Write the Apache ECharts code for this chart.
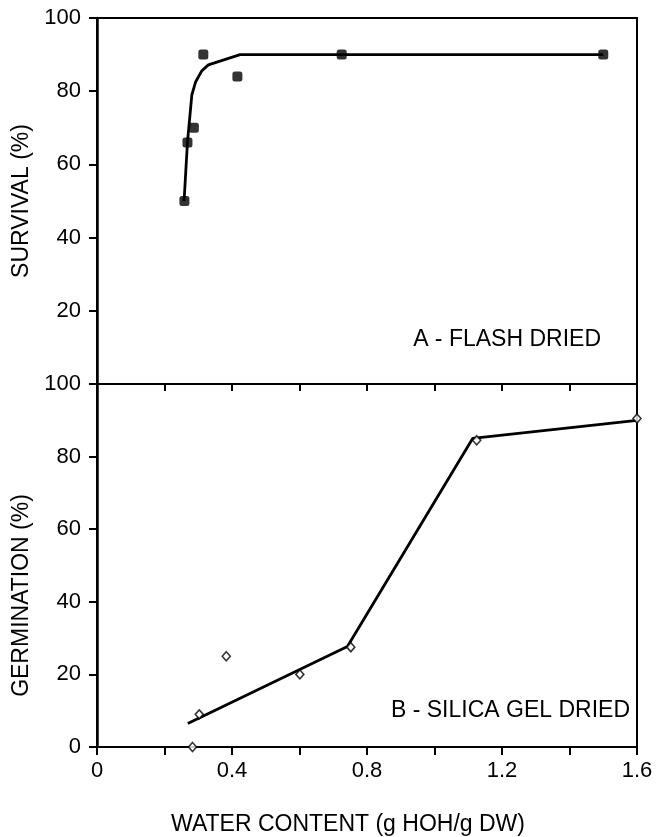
<!DOCTYPE html>
<html>
<head>
<meta charset="utf-8">
<script src="https://cdn.jsdelivr.net/npm/echarts@6/dist/echarts.min.js"></script>
<style>
  html, body { margin: 0; padding: 0; background: #fff; }
  #chart { width: 657px; height: 837px; }
</style>
</head>
<body>
<div id="chart"></div>
<script>
// A - flash dried: survival (%)
const flashX = [0.259, 0.268, 0.287, 0.315, 0.416, 0.725, 1.5]
const flashY = [50, 66, 70, 90, 84, 90, 90]
// fitted curve, panel A
const flashFitX = [0.258, 0.268, 0.281, 0.292, 0.31, 0.33, 0.424, 1.5]
const flashFitY = [50, 66, 79, 82.5, 85.5, 87.2, 90, 90]

// B - silica gel dried: germination (%)
const silicaX = [0.283, 0.303, 0.383, 0.601, 0.752, 1.125, 1.6]
const silicaY = [0, 9, 25, 20, 27.5, 84.5, 90.5]
// fitted line, panel B
const silicaFitX = [0.269, 0.742, 1.113, 1.6]
const silicaFitY = [6.5, 27.7, 85, 90]

const zip = (xs, ys) => xs.map((x, i) => [x, ys[i]])

const FONT = 'Liberation Sans, Arial, sans-serif'
const black = '#000'

const chart = echarts.init(document.getElementById('chart'))

const option = {
  animation: false,
  backgroundColor: '#fff',
  textStyle: { fontFamily: FONT, color: black },
  grid: [
    { left: 97, top: 18, width: 540, height: 366, show: true, borderColor: black, borderWidth: 2 },
    { left: 97, top: 384, width: 540, height: 366, show: true, borderColor: black, borderWidth: 2 }
  ],
  xAxis: [
    {
      gridIndex: 0, type: 'value', min: 0, max: 1.6, interval: 0.2,
      axisLine: { show: false }, axisTick: { show: false },
      axisLabel: { show: false }, splitLine: { show: false }
    },
    {
      gridIndex: 1, type: 'value', min: 0, max: 1.6, interval: 0.2, position: 'bottom',
      axisLine: { lineStyle: { color: black, width: 2 } },
      axisTick: { length: 8, lineStyle: { color: black, width: 2 } },
      axisLabel: {
        fontSize: 22, color: black, margin: 13, fontFamily: FONT,
        formatter: function(v) {
          const k = Math.round(v * 10)
          return k % 4 === 0 ? String(k / 10) : ''
        }
      },
      splitLine: { show: false },
      name: 'WATER CONTENT (g HOH/g DW)',
      nameLocation: 'middle',
      nameGap: 66,
      nameTextStyle: { fontSize: 23, color: black, fontFamily: FONT, padding: [0, 38, 0, 0] }
    },
    {
      // ticks along the top edge of panel B
      gridIndex: 1, type: 'value', min: 0, max: 1.6, interval: 0.2, position: 'top',
      axisLine: { show: false },
      axisTick: { inside: true, length: 7, lineStyle: { color: black, width: 2 } },
      axisLabel: { show: false }, splitLine: { show: false }
    }
  ],
  yAxis: [
    {
      gridIndex: 0, type: 'value', min: 0, max: 100, interval: 20,
      axisLine: { show: true, lineStyle: { color: black, width: 2.5 } },
      axisTick: { show: true, length: 8, lineStyle: { color: black, width: 2 } },
      axisLabel: {
        fontSize: 22, color: black, margin: 16, fontFamily: FONT,
        formatter: v => (v === 0 ? '' : String(v))
      },
      splitLine: { show: false },
      name: 'SURVIVAL (%)',
      nameLocation: 'middle',
      nameGap: 60,
      nameTextStyle: { fontSize: 23, color: black, fontFamily: FONT }
    },
    {
      gridIndex: 1, type: 'value', min: 0, max: 100, interval: 20,
      axisLine: { show: true, lineStyle: { color: black, width: 2.5 } },
      axisTick: { show: true, length: 8, lineStyle: { color: black, width: 2 } },
      axisLabel: { fontSize: 22, color: black, margin: 16, fontFamily: FONT },
      splitLine: { show: false },
      name: 'GERMINATION (%)',
      nameLocation: 'middle',
      nameGap: 60,
      nameTextStyle: { fontSize: 23, color: black, fontFamily: FONT, padding: [0, 60, 0, 0] }
    }
  ],
  graphic: [
    {
      type: 'text', right: 56, top: 328,
      style: { text: 'A - FLASH DRIED', font: '23px ' + FONT, fill: black }
    },
    {
      type: 'text', right: 27, top: 699,
      style: { text: 'B - SILICA GEL DRIED', font: '23px ' + FONT, fill: black }
    }
  ],
  series: [
    {
      name: 'flash fit', type: 'line', xAxisIndex: 0, yAxisIndex: 0,
      data: zip(flashFitX, flashFitY), showSymbol: false,
      lineStyle: { color: black, width: 2.8 }, z: 3
    },
    {
      name: 'flash', type: 'scatter', xAxisIndex: 0, yAxisIndex: 0,
      data: zip(flashX, flashY), symbol: 'roundRect', symbolSize: 10,
      itemStyle: { color: black }, clip: false, z: 4
    },
    {
      name: 'silica fit', type: 'line', xAxisIndex: 1, yAxisIndex: 1,
      data: zip(silicaFitX, silicaFitY), showSymbol: false,
      lineStyle: { color: black, width: 2.8 }, z: 3
    },
    {
      name: 'silica', type: 'scatter', xAxisIndex: 1, yAxisIndex: 1,
      data: zip(silicaX, silicaY), symbol: 'diamond', symbolSize: [8, 9],
      itemStyle: { color: '#fff', borderColor: black, borderWidth: 1.6 }, clip: false, z: 4
    }
  ]
}

chart.setOption(option)
window.addEventListener('resize', function() {
  chart.resize()
})
</script>
</body>
</html>
